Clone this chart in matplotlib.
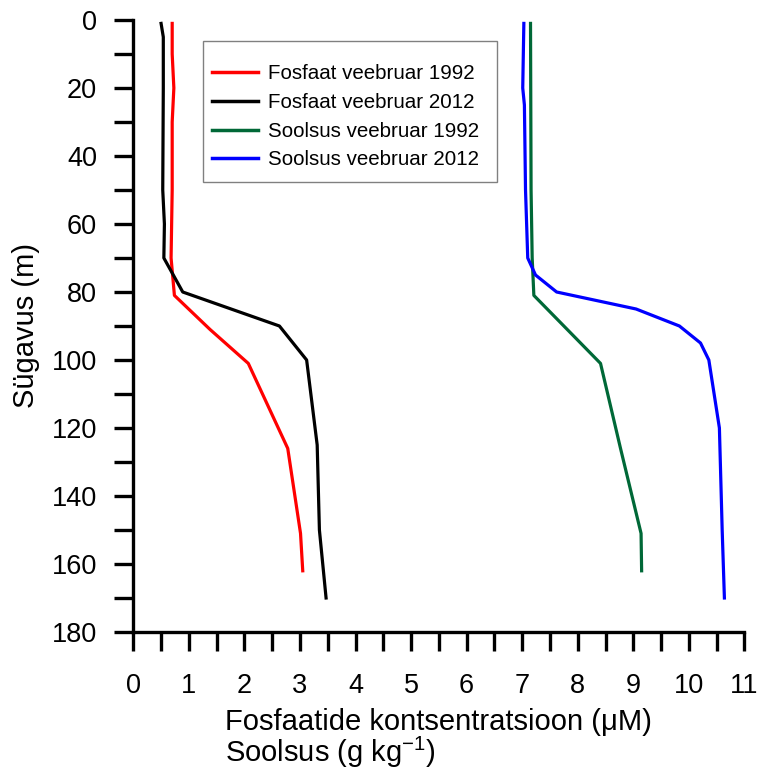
import matplotlib
matplotlib.use("Agg")
import matplotlib.pyplot as plt
from matplotlib.ticker import MultipleLocator
from matplotlib.patches import Rectangle

plt.rcParams['font.family'] = ['Liberation Sans', 'DejaVu Sans']
plt.rcParams['mathtext.fontset'] = 'custom'
plt.rcParams['mathtext.rm'] = 'Liberation Sans'
plt.rcParams['mathtext.it'] = 'Liberation Sans'

# Data
depth_p1992 = [1, 10, 20, 30, 50, 70, 81, 91, 101, 126, 151, 162]
phos_1992 = [0.70, 0.70, 0.73, 0.70, 0.70, 0.68, 0.74, 1.38, 2.07, 2.78, 3.01, 3.05]

depth_p2012 = [1, 5, 20, 50, 60, 70, 80, 90, 100, 125, 150, 170]
phos_2012 = [0.50, 0.54, 0.54, 0.53, 0.56, 0.55, 0.89, 2.63, 3.12, 3.31, 3.35, 3.47]

depth_s1992 = [1, 50, 70, 81, 101, 126, 151, 162]
sal_1992 = [7.15, 7.16, 7.18, 7.21, 8.41, 8.77, 9.14, 9.15]

depth_s2012 = [1, 20, 25, 50, 70, 75, 80, 85, 90, 95, 100, 120, 150, 170]
sal_2012 = [7.03, 7.01, 7.04, 7.06, 7.10, 7.24, 7.62, 9.05, 9.83, 10.21, 10.36, 10.55, 10.60, 10.64]

labels = ["Fosfaat veebruar 1992", "Fosfaat veebruar 2012",
          "Soolsus veebruar 1992", "Soolsus veebruar 2012"]
colors = ["#FF0000", "#000000", "#006837", "#0000FF"]

fig = plt.figure(figsize=(7.6, 7.72), dpi=100)
ax = fig.add_axes([133.3/760, 1-632/772, (744.4-133.3)/760, (632-20)/772])

lw = 2.3
ax.plot(phos_1992, depth_p1992, color=colors[0], lw=lw, label=labels[0])
ax.plot(phos_2012, depth_p2012, color=colors[1], lw=lw, label=labels[1])
ax.plot(sal_1992, depth_s1992, color=colors[2], lw=lw, label=labels[2])
ax.plot(sal_2012, depth_s2012, color=colors[3], lw=lw, label=labels[3])

ax.set_xlim(0, 11)
ax.set_ylim(180, 0)
for s in ['top', 'right']:
    ax.spines[s].set_visible(False)
for s in ['left', 'bottom']:
    ax.spines[s].set_linewidth(2.4)

ax.xaxis.set_major_locator(MultipleLocator(1))
ax.xaxis.set_minor_locator(MultipleLocator(0.5))
ax.yaxis.set_major_locator(MultipleLocator(20))
ax.yaxis.set_minor_locator(MultipleLocator(10))
ax.tick_params(which='both', direction='out', length=13.5, width=2.4, labelsize=19.5)
ax.tick_params(axis='x', which='major', pad=16)
ax.tick_params(axis='y', which='major', pad=12.5)

fig.text(26/760, 1-326/772, "Sügavus (m)", rotation=90, ha='center', va='center', fontsize=21)
fig.text(225/760, 1-730/772, "Fosfaatide kontsentratsioon (μM)", ha='left', va='baseline', fontsize=21)
fig.text(225/760, 1-762/772, r"Soolsus (g kg$^{-1}$)", ha='left', va='baseline', fontsize=21)

# legend frame drawn separately
frame = Rectangle((203/760, 1-182/772), (497-203)/760, (182-41)/772,
                  transform=fig.transFigure, facecolor='white',
                  edgecolor='#808080', linewidth=1.0, zorder=4, clip_on=False)
ax.add_patch(frame)

leg = ax.legend(loc='upper left', bbox_to_anchor=(198/760, 1-50/772),
                bbox_transform=fig.transFigure, fontsize=14.8, frameon=False,
                handlelength=2.2, handletextpad=0.52, labelspacing=0.47,
                borderpad=0.7, borderaxespad=0)
leg.set_zorder(6)
for line in leg.get_lines():
    line.set_linewidth(2.5)

fig.savefig("out.png", dpi=100)
